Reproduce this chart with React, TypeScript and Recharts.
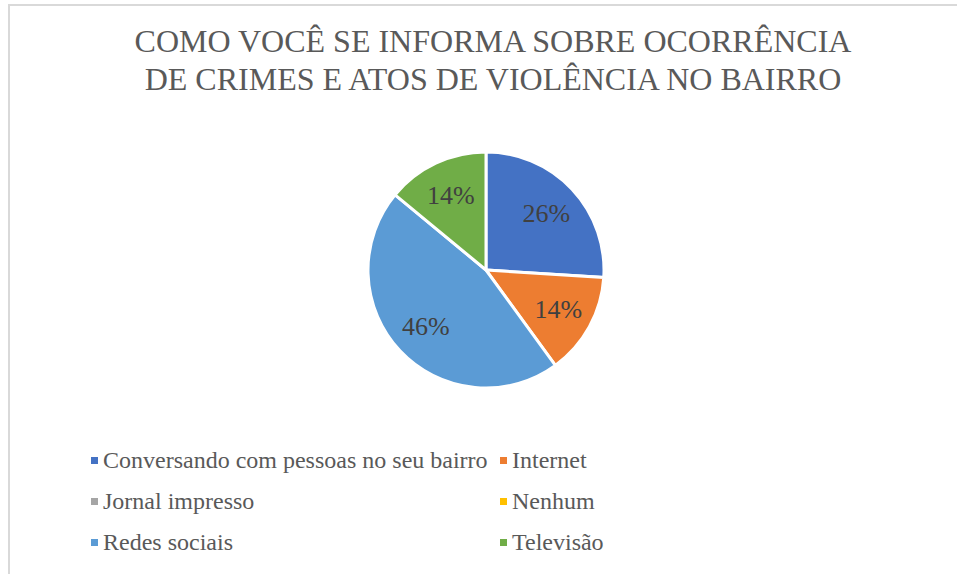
import { PieChart, Pie, Cell, Legend } from "recharts";

const categories = [
  "Conversando com pessoas no seu bairro",
  "Internet",
  "Jornal impresso",
  "Nenhum",
  "Redes sociais",
  "Televisão",
];
const values = [26, 14, 0, 0, 46, 14];
const colors = ["#4472c4", "#ed7d31", "#a5a5a5", "#ffc000", "#5b9bd5", "#70ad47"];

const titleLines = [
  "COMO VOCÊ SE INFORMA SOBRE OCORRÊNCIA",
  "DE CRIMES E ATOS DE VIOLÊNCIA NO BAIRRO",
];

const data = categories.map((name, i) => ({ name, value: values[i] }));

const RAD = Math.PI / 180;
const serif = "Liberation Serif";

function renderLabel(props: any) {
  const { cx, cy, midAngle, outerRadius, value } = props;
  if (!value) return null;
  const r = outerRadius * 0.7;
  const x = cx + r * Math.cos(-midAngle * RAD);
  const y = cy + r * Math.sin(-midAngle * RAD);
  return (
    <text
      x={x}
      y={y}
      fill="#404040"
      textAnchor="middle"
      dominantBaseline="central"
      fontFamily={serif}
      fontSize={26}
    >
      {`${value}%`}
    </text>
  );
}

function renderLegend() {
  const rows = [0, 2, 4];
  return (
    <div style={{ fontFamily: serif, fontSize: 24, color: "#595959" }}>
      {rows.map((r) => (
        <div key={r} style={{ display: "flex", height: 41, alignItems: "center" }}>
          {[r, r + 1].map((i) => (
            <div
              key={i}
              style={{
                display: "flex",
                alignItems: "center",
                width: i % 2 === 0 ? 409 : 200,
                whiteSpace: "nowrap",
              }}
            >
              <span
                style={{
                  display: "inline-block",
                  width: 7,
                  height: 7,
                  background: colors[i],
                  marginRight: 5,
                  flexShrink: 0,
                }}
              />
              {categories[i]}
            </div>
          ))}
        </div>
      ))}
    </div>
  );
}

export default function App() {
  return (
    <div
      style={{
        position: "absolute",
        left: 8,
        top: 4,
        width: 949,
        height: 570,
        borderLeft: "2px solid #d9d9d9",
        borderTop: "2px solid #d9d9d9",
        boxSizing: "border-box",
        background: "#fff",
      }}
    >
      <div
        style={{
          position: "absolute",
          left: 0,
          top: 16,
          width: 966,
          textAlign: "center",
          fontFamily: serif,
          fontSize: 32,
          lineHeight: "38px",
          color: "#595959",
          whiteSpace: "nowrap",
        }}
      >
        {titleLines.map((t) => (
          <div key={t}>{t}</div>
        ))}
      </div>
      <PieChart width={947} height={568} margin={{ top: 0, right: 0, bottom: 0, left: 0 }}>
        <Pie
          data={data}
          dataKey="value"
          nameKey="name"
          cx={476}
          cy={264}
          outerRadius={118}
          startAngle={90}
          endAngle={-270}
          stroke="#ffffff"
          strokeWidth={3}
          label={renderLabel}
          labelLine={false}
          isAnimationActive={false}
        >
          {data.map((d, i) => (
            <Cell key={d.name} fill={colors[i]} />
          ))}
        </Pie>
        <Legend
          content={renderLegend}
          wrapperStyle={{ position: "absolute", left: 81, top: 434, width: 700 }}
        />
      </PieChart>
    </div>
  );
}
